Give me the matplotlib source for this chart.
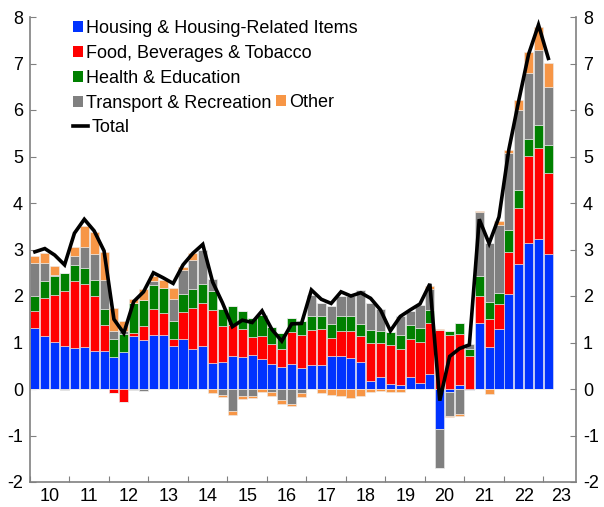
import matplotlib
matplotlib.use("Agg")
import matplotlib.pyplot as plt
import numpy as np
from matplotlib.patches import Patch
from matplotlib.lines import Line2D

plt.rcParams['font.family'] = ['Liberation Sans', 'DejaVu Sans']
plt.rcParams['axes.unicode_minus'] = False

# Quarterly contributions, 2010Q1 .. 2023Q1
housing = [1.32, 1.15, 1.02, 0.93, 0.88, 0.90, 0.82, 0.81, 0.69, 0.79,
           1.13, 1.05, 1.16, 1.16, 0.93, 1.07, 0.87, 0.93, 0.55, 0.57,
           0.71, 0.68, 0.73, 0.65, 0.54, 0.47, 0.54, 0.45, 0.52, 0.52,
           0.71, 0.70, 0.67, 0.59, 0.17, 0.25, 0.11, 0.09, 0.25, 0.12,
           0.32, -0.87, -0.06, 0.09, -0.03, 1.41, 0.90, 1.28, 2.04, 2.68,
           3.13, 3.22, 2.90]
food = [0.36, 0.80, 1.00, 1.18, 1.44, 1.36, 1.19, 0.57, -0.09, -0.29,
        0.08, 0.30, 0.57, 0.48, 0.14, 0.58, 0.88, 0.91, 1.15, 0.78,
        0.67, 0.61, 0.38, 0.49, 0.43, 0.38, 0.68, 0.72, 0.75, 0.78,
        0.39, 0.55, 0.58, 0.55, 0.81, 0.73, 0.83, 0.78, 0.83, 0.90,
        1.09, 1.27, 1.16, 1.09, 0.70, 0.59, 0.60, 0.55, 0.91, 1.21,
        1.88, 1.97, 1.74]
health = [0.31, 0.38, 0.40, 0.38, 0.35, 0.34, 0.33, 0.34, 0.39, 0.40,
          0.65, 0.56, 0.51, 0.54, 0.40, 0.39, 0.39, 0.42, 0.41, 0.38,
          0.40, 0.39, 0.42, 0.45, 0.37, 0.35, 0.30, 0.29, 0.31, 0.27,
          0.30, 0.31, 0.31, 0.26, 0.28, 0.27, 0.28, 0.29, 0.30, 0.30,
          0.29, 0.00, 0.09, 0.23, 0.15, 0.43, 0.38, 0.23, 0.46, 0.38,
          0.36, 0.48, 0.61]
transport = [0.73, 0.38, 0.03, -0.02, 0.20, 0.45, 0.56, 0.62, 0.17, 0.05,
             -0.02, -0.05, 0.08, 0.00, 0.46, 0.52, 0.63, 0.73, 0.25, -0.12,
             -0.48, -0.15, -0.16, 0.00, -0.06, -0.23, -0.32, -0.08, 0.44, 0.29,
             0.38, 0.44, 0.43, 0.73, 0.58, 0.48, 0.00, 0.40, 0.30, 0.49,
             0.46, -0.83, -0.52, -0.54, 0.12, 1.37, 1.27, 1.47, 1.66, 1.72,
             1.42, 1.62, 1.25]
other = [0.13, 0.21, 0.20, 0.00, 0.19, 0.46, 0.47, 0.61, 0.50, 0.22,
         0.07, 0.23, 0.11, 0.16, 0.24, 0.07, 0.15, 0.00, -0.09, -0.05,
         -0.07, -0.06, -0.04, -0.07, -0.10, -0.10, -0.05, -0.09, 0.00, -0.09,
         -0.13, -0.15, -0.20, -0.14, -0.07, -0.05, -0.07, -0.07, 0.00, 0.00,
         0.05, 0.03, -0.03, -0.04, 0.00, 0.03, -0.10, 0.08, 0.07, 0.23,
         0.46, 0.50, 0.52]
total = [2.95, 3.02, 2.88, 2.67, 3.35, 3.65, 3.40, 2.97, 1.50, 1.20,
         1.88, 2.09, 2.50, 2.39, 2.27, 2.67, 2.92, 3.11, 2.30, 1.85,
         1.34, 1.48, 1.43, 1.68, 1.28, 1.03, 1.40, 1.41, 2.13, 1.93,
         1.84, 2.09, 2.00, 2.07, 1.95, 1.70, 1.25, 1.56, 1.70, 1.83,
         2.26, -0.25, 0.70, 0.87, 0.95, 3.65, 3.13, 3.70, 5.15, 6.20,
         7.20, 7.83, 7.11]

year_labels = ['10', '11', '12', '13', '14', '15', '16', '17', '18', '19',
               '20', '21', '22', '23']

series_names = ['Housing & Housing-Related Items', 'Food, Beverages & Tobacco',
                'Health & Education', 'Transport & Recreation', 'Other']
colors = ['#0033FF', '#FF0000', '#008000', '#808080', '#F79646']

fig = plt.figure(figsize=(6.04, 5.07), dpi=100)
ax = fig.add_axes([30/604, 25/507, 546/604, 465/507])

n = len(total)
x = np.arange(n)
pos_base = np.zeros(n)
neg_base = np.zeros(n)
for vals, c in zip([housing, food, health, transport, other], colors):
    v = np.array(vals, dtype=float)
    pos = np.where(v > 0, v, 0)
    neg = np.where(v < 0, v, 0)
    ax.bar(x, pos, bottom=pos_base, width=0.92, color=c,
           edgecolor='#ececec', linewidth=0.4, zorder=2)
    ax.bar(x, neg, bottom=neg_base, width=0.92, color=c,
           edgecolor='#ececec', linewidth=0.4, zorder=2)
    pos_base += pos
    neg_base += neg

ax.plot(x, total, color='black', lw=2.6, zorder=3, solid_joinstyle='miter')

ax.set_xlim(-0.5, 54.8)
ax.set_ylim(-2, 8)

# y axis both sides
ax.set_yticks(range(-2, 9))
ax.tick_params(axis='y', direction='in', length=4, width=0.8, color='#808080',
               left=True, right=True, labelleft=True, labelright=True,
               labelsize=13, pad=5)

# x axis: year boundaries as minor ticks, labels in middle
bounds = [-0.5 + 4 * k for k in range(14)]
ax.set_xticks(bounds, minor=True)
lab_pos = [1.5 + 4 * k for k in range(13)] + [53.3]
ax.set_xticks(lab_pos)
ax.set_xticklabels(year_labels)
ax.tick_params(axis='x', which='major', length=0, labelsize=13, pad=4)
ax.tick_params(axis='x', which='minor', direction='in', length=4, width=0.8,
               color='#808080')

for side in ['left', 'right', 'bottom']:
    ax.spines[side].set_color('#808080')
    ax.spines[side].set_linewidth(1.2)
ax.spines['top'].set_visible(False)

# Legends
h_main = [Patch(facecolor=colors[i], edgecolor='none') for i in range(4)]
leg1 = ax.legend(h_main, series_names[:4], loc='upper left',
                 bbox_to_anchor=(0.065, 1.01), frameon=False, fontsize=13,
                 handlelength=0.55, handleheight=0.55, handletextpad=0.2,
                 labelspacing=0.45, borderaxespad=0)
ax.add_artist(leg1)
leg2 = ax.legend([Patch(facecolor=colors[4], edgecolor='none')], ['Other'],
                 loc='upper left', bbox_to_anchor=(0.437, 0.851),
                 frameon=False, fontsize=13, handlelength=0.55,
                 handleheight=0.55, handletextpad=0.2, borderaxespad=0)
ax.add_artist(leg2)
leg3 = ax.legend([Line2D([0], [0], color='black', lw=2.6)], ['Total'],
                 loc='upper left', bbox_to_anchor=(0.065, 0.796),
                 frameon=False, fontsize=13, handlelength=0.85,
                 handletextpad=0.2, borderaxespad=0)

fig.savefig('out.png', dpi=100)
